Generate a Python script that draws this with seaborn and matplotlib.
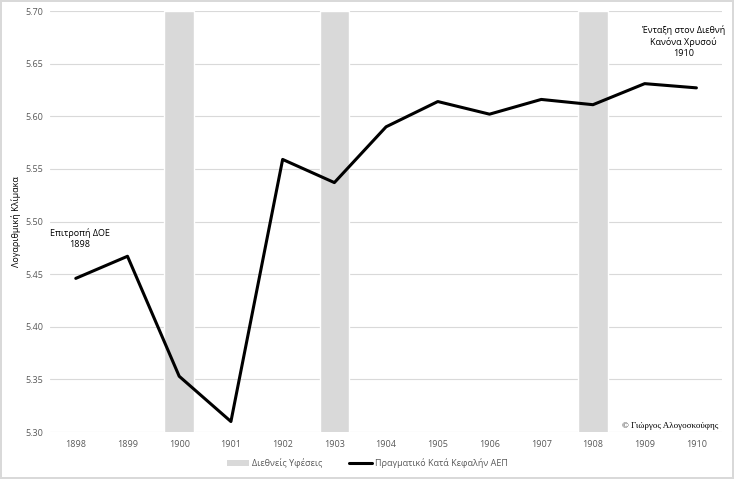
import numpy as np
import pandas as pd
import matplotlib
matplotlib.use("Agg")
import matplotlib.pyplot as plt
import seaborn as sns
from matplotlib.patches import Patch
from matplotlib.lines import Line2D

# data
years = ["1898", "1899", "1900", "1901", "1902", "1903", "1904",
         "1905", "1906", "1907", "1908", "1909", "1910"]
gdp_log = [5.446, 5.467, 5.353, 5.310, 5.559, 5.537, 5.590,
           5.614, 5.602, 5.616, 5.611, 5.631, 5.627]
recession_years = ["1900", "1903", "1908"]
recession_top = 5.70

sns.set_theme(style="white")
plt.rcParams["font.family"] = ["Open Sans", "DejaVu Sans"]
grey_txt = "#595959"

df = pd.DataFrame({
    "year": years,
    "pos": np.arange(len(years)),
    "gdp": gdp_log,
    "rec": [recession_top if y in recession_years else 0.0 for y in years],
})

fig = plt.figure(figsize=(7.34, 4.79), dpi=100)
fig.patch.set_edgecolor("#d9d9d9")
fig.patch.set_linewidth(1.5)
ax = fig.add_axes([0.068, 0.098, 0.916, 0.879])

sns.barplot(data=df, x="year", y="rec", order=years, color="#d9d9d9",
            width=0.57, saturation=1, ax=ax, zorder=1)
sns.lineplot(data=df, x="pos", y="gdp", color="black", linewidth=2.2,
             ax=ax, zorder=3)

ax.set_ylim(5.30, 5.70)
ax.set_xlim(-0.5, len(years) - 0.5)
ax.set_yticks(np.arange(5.30, 5.701, 0.05))
ax.set_yticklabels([f"{v:.2f}" for v in np.arange(5.30, 5.701, 0.05)])
ax.set_xticks(range(len(years)))
ax.set_xticklabels(years)
ax.yaxis.grid(True, color="#d9d9d9", linewidth=0.8, zorder=0)
ax.set_axisbelow(True)
for s in ax.spines.values():
    s.set_visible(False)
ax.tick_params(axis="both", length=0, labelsize=6.5, colors=grey_txt)
ax.tick_params(axis="x", pad=6)
ax.tick_params(axis="y", pad=5)
ax.set_xlabel("")
ax.set_ylabel("Λογαριθμική Κλίμακα", fontsize=6.5, color="black", labelpad=3)

ax.text(0.08, 5.474, "Επιτροπή ΔΟΕ\n1898", ha="center", va="bottom",
        fontsize=6.5, color="black", linespacing=1.3)
ax.text(11.75, 5.655, "Ένταξη στον Διεθνή\nΚανόνα Χρυσού\n1910", ha="center",
        va="bottom", fontsize=6.5, color="black", linespacing=1.3)
ax.text(12.42, 5.302, "© Γιώργος Αλογοσκούφης", ha="right", va="bottom",
        fontsize=6.5, color="black", family=["Liberation Serif", "DejaVu Serif"])

handles = [Patch(facecolor="#d9d9d9", edgecolor="none"),
           Line2D([0], [0], color="black", linewidth=2.2)]
fig.legend(handles, ["Διεθνείς Υφέσεις", "Πραγματικό Κατά Κεφαλήν ΑΕΠ"],
           loc="center", bbox_to_anchor=(0.5, 0.033), ncol=2, frameon=False,
           fontsize=6.5, labelcolor=grey_txt, handlelength=2.5,
           handletextpad=0.3, columnspacing=3)

fig.savefig("out.png", dpi=100)
